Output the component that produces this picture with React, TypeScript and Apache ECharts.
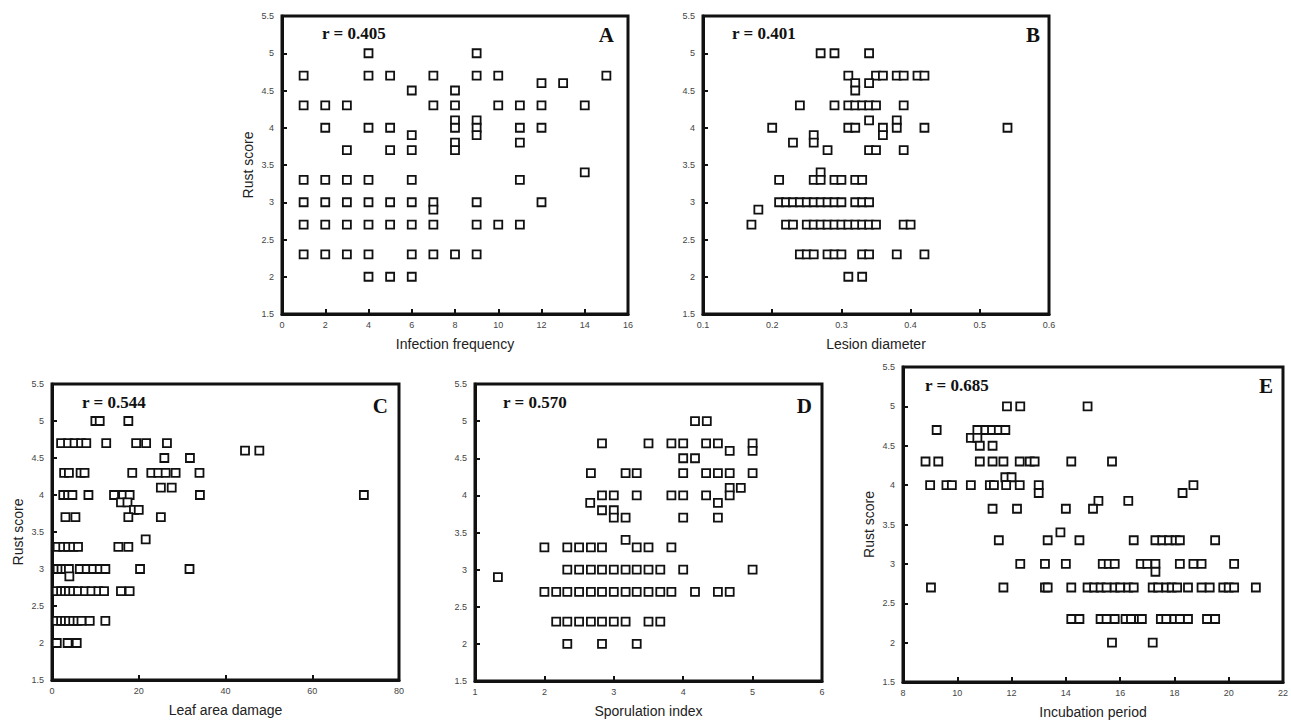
import React, { useEffect, useRef } from "react";
import * as echarts from "echarts";

// Panel A: Infection frequency vs Rust score
const infectionFrequency: [number, number][] = [
  [4, 5], [9, 5],
  [1, 4.7], [4, 4.7], [5, 4.7], [7, 4.7], [9, 4.7], [10, 4.7], [15, 4.7],
  [12, 4.6], [13, 4.6],
  [6, 4.5], [8, 4.5],
  [1, 4.3], [2, 4.3], [3, 4.3], [7, 4.3], [8, 4.3], [10, 4.3], [11, 4.3], [12, 4.3], [14, 4.3],
  [8, 4.1], [9, 4.1],
  [2, 4], [4, 4], [5, 4], [8, 4], [9, 4], [11, 4], [12, 4],
  [6, 3.9], [9, 3.9],
  [8, 3.8], [11, 3.8],
  [3, 3.7], [5, 3.7], [6, 3.7], [8, 3.7],
  [14, 3.4],
  [1, 3.3], [2, 3.3], [3, 3.3], [4, 3.3], [6, 3.3], [11, 3.3],
  [1, 3], [2, 3], [3, 3], [4, 3], [5, 3], [6, 3], [7, 3], [9, 3], [12, 3],
  [7, 2.9],
  [1, 2.7], [2, 2.7], [3, 2.7], [4, 2.7], [5, 2.7], [6, 2.7], [7, 2.7], [9, 2.7], [10, 2.7], [11, 2.7],
  [1, 2.3], [2, 2.3], [3, 2.3], [4, 2.3], [6, 2.3], [7, 2.3], [8, 2.3], [9, 2.3],
  [4, 2], [5, 2], [6, 2],
];

// Panel B: Lesion diameter vs Rust score
const lesionDiameter: [number, number][] = [
  [0.27, 5], [0.29, 5], [0.34, 5],
  [0.31, 4.7], [0.35, 4.7], [0.36, 4.7], [0.38, 4.7], [0.39, 4.7], [0.41, 4.7], [0.42, 4.7],
  [0.32, 4.6], [0.34, 4.6],
  [0.32, 4.5],
  [0.24, 4.3], [0.29, 4.3], [0.31, 4.3], [0.32, 4.3], [0.33, 4.3], [0.34, 4.3], [0.35, 4.3], [0.39, 4.3],
  [0.34, 4.1], [0.38, 4.1],
  [0.2, 4], [0.31, 4], [0.32, 4], [0.36, 4], [0.38, 4], [0.42, 4], [0.54, 4],
  [0.26, 3.9], [0.36, 3.9],
  [0.23, 3.8], [0.26, 3.8],
  [0.28, 3.7], [0.34, 3.7], [0.35, 3.7], [0.39, 3.7],
  [0.27, 3.4],
  [0.21, 3.3], [0.26, 3.3], [0.27, 3.3], [0.29, 3.3], [0.3, 3.3], [0.32, 3.3], [0.33, 3.3],
  [0.21, 3], [0.22, 3], [0.23, 3], [0.24, 3], [0.25, 3], [0.26, 3], [0.27, 3], [0.28, 3], [0.29, 3], [0.3, 3],
  [0.32, 3], [0.33, 3], [0.34, 3],
  [0.18, 2.9],
  [0.17, 2.7], [0.22, 2.7], [0.23, 2.7], [0.25, 2.7], [0.26, 2.7], [0.27, 2.7], [0.28, 2.7], [0.29, 2.7],
  [0.3, 2.7], [0.31, 2.7], [0.32, 2.7], [0.33, 2.7], [0.34, 2.7], [0.35, 2.7], [0.39, 2.7], [0.4, 2.7],
  [0.24, 2.3], [0.25, 2.3], [0.26, 2.3], [0.28, 2.3], [0.29, 2.3], [0.3, 2.3], [0.33, 2.3], [0.34, 2.3], [0.38, 2.3], [0.42, 2.3],
  [0.31, 2], [0.33, 2],
];

// Panel C: Leaf area damage vs Rust score
const leafAreaDamage: [number, number][] = [
  [10, 5], [11, 5], [17.6, 5],
  [2.1, 4.7], [3.7, 4.7], [5.2, 4.7], [6.7, 4.7], [7.9, 4.7], [12.5, 4.7], [19.4, 4.7], [21.7, 4.7], [26.5, 4.7],
  [44.5, 4.6], [47.8, 4.6],
  [25.9, 4.5], [31.8, 4.5],
  [2.8, 4.3], [3.9, 4.3], [6.6, 4.3], [7.5, 4.3], [18.5, 4.3], [22.9, 4.3], [24.5, 4.3], [26.2, 4.3], [28.5, 4.3], [34, 4.3],
  [25.1, 4.1], [27.6, 4.1],
  [2.6, 4], [3.7, 4], [4.7, 4], [8.4, 4], [14.3, 4], [16.4, 4], [17.9, 4], [34.1, 4], [71.9, 4],
  [15.9, 3.9], [17.4, 3.9],
  [18.9, 3.8], [20, 3.8],
  [3.1, 3.7], [5.4, 3.7], [17.6, 3.7], [25.1, 3.7],
  [21.6, 3.4],
  [1.3, 3.3], [2.6, 3.3], [3.7, 3.3], [4.9, 3.3], [6.0, 3.3], [15.3, 3.3], [17.6, 3.3],
  [1.3, 3], [2.2, 3], [3.1, 3], [3.9, 3], [6.4, 3], [8, 3], [9.5, 3], [11, 3], [12.3, 3], [20.3, 3], [31.7, 3],
  [4, 2.9],
  [1.1, 2.7], [2.1, 2.7], [3, 2.7], [3.9, 2.7], [4.9, 2.7], [6, 2.7], [7.6, 2.7], [9.1, 2.7], [10.7, 2.7], [12, 2.7], [15.9, 2.7], [17.9, 2.7],
  [1.1, 2.3], [2.1, 2.3], [3, 2.3], [3.9, 2.3], [4.9, 2.3], [5.9, 2.3], [6.8, 2.3], [8.7, 2.3], [12.3, 2.3],
  [1.1, 2], [3.6, 2], [5.7, 2],
];

// Panel D: Sporulation index vs Rust score
const sporulationIndex: [number, number][] = [
  [4.17, 5], [4.34, 5],
  [2.83, 4.7], [3.5, 4.7], [3.83, 4.7], [4, 4.7], [4.33, 4.7], [4.5, 4.7], [5, 4.7],
  [4.67, 4.6], [5, 4.6],
  [4, 4.5], [4.17, 4.5],
  [2.67, 4.3], [3.17, 4.3], [3.33, 4.3], [4, 4.3], [4.33, 4.3], [4.5, 4.3], [4.67, 4.3], [5, 4.3],
  [4.67, 4.1], [4.83, 4.1],
  [2.83, 4], [3, 4], [3.33, 4], [3.83, 4], [4, 4], [4.33, 4], [4.67, 4],
  [2.66, 3.9], [4.5, 3.9],
  [2.83, 3.8], [3, 3.8],
  [3, 3.7], [3.17, 3.7], [4, 3.7], [4.5, 3.7],
  [3.17, 3.4],
  [2, 3.3], [2.33, 3.3], [2.5, 3.3], [2.67, 3.3], [2.83, 3.3], [3.33, 3.3], [3.5, 3.3], [3.83, 3.3],
  [2.33, 3], [2.5, 3], [2.67, 3], [2.83, 3], [3, 3], [3.17, 3], [3.33, 3], [3.5, 3], [3.67, 3], [4, 3], [5, 3],
  [1.33, 2.9],
  [2, 2.7], [2.17, 2.7], [2.33, 2.7], [2.5, 2.7], [2.67, 2.7], [2.83, 2.7], [3, 2.7], [3.17, 2.7], [3.33, 2.7],
  [3.5, 2.7], [3.67, 2.7], [3.83, 2.7], [4.17, 2.7], [4.5, 2.7], [4.67, 2.7],
  [2.17, 2.3], [2.33, 2.3], [2.5, 2.3], [2.67, 2.3], [2.83, 2.3], [3, 2.3], [3.17, 2.3], [3.5, 2.3], [3.67, 2.3],
  [2.33, 2], [2.83, 2], [3.33, 2],
];

// Panel E: Incubation period vs Rust score
const incubationPeriod: [number, number][] = [
  [11.83, 5], [12.32, 5], [14.8, 5],
  [9.24, 4.7], [10.74, 4.7], [11.04, 4.7], [11.28, 4.7], [11.53, 4.7], [11.77, 4.7],
  [10.5, 4.6], [10.74, 4.6],
  [10.83, 4.5], [11.3, 4.5],
  [8.83, 4.3], [9.3, 4.3], [10.83, 4.3], [11.3, 4.3], [11.7, 4.3], [12.3, 4.3], [12.67, 4.3], [12.85, 4.3], [14.2, 4.3], [15.7, 4.3],
  [11.77, 4.1], [12, 4.1],
  [9, 4], [9.6, 4], [9.8, 4], [10.5, 4], [11.2, 4], [11.35, 4], [11.8, 4], [12.3, 4], [13, 4], [18.7, 4],
  [13, 3.9], [18.3, 3.9],
  [15.2, 3.8], [16.3, 3.8],
  [11.3, 3.7], [12.2, 3.7], [14, 3.7], [15, 3.7],
  [13.8, 3.4],
  [11.53, 3.3], [13.33, 3.3], [14.5, 3.3], [16.5, 3.3], [17.3, 3.3], [17.55, 3.3], [17.8, 3.3], [18.04, 3.3], [18.2, 3.3], [19.5, 3.3],
  [12.32, 3], [13.23, 3], [14, 3], [15.36, 3], [15.58, 3], [15.8, 3], [16.76, 3], [17, 3], [17.3, 3], [18.2, 3], [18.7, 3], [19, 3], [20.2, 3],
  [17.3, 2.9],
  [9.03, 2.7], [11.7, 2.7], [13.23, 2.7], [13.33, 2.7], [14.2, 2.7], [14.8, 2.7], [15.04, 2.7], [15.28, 2.7], [15.5, 2.7],
  [15.8, 2.7], [16, 2.7], [16.3, 2.7], [16.5, 2.7], [17.2, 2.7], [17.4, 2.7], [17.7, 2.7], [17.9, 2.7], [18.1, 2.7],
  [18.5, 2.7], [19, 2.7], [19.3, 2.7], [19.8, 2.7], [20, 2.7], [20.2, 2.7], [21, 2.7],
  [14.2, 2.3], [14.5, 2.3], [15.28, 2.3], [15.5, 2.3], [15.8, 2.3], [16.2, 2.3], [16.4, 2.3], [16.7, 2.3], [16.8, 2.3],
  [17.5, 2.3], [17.7, 2.3], [18, 2.3], [18.2, 2.3], [18.5, 2.3], [19.2, 2.3], [19.5, 2.3],
  [15.7, 2], [17.2, 2],
];

const xNames = ["Infection frequency", "Lesion diameter", "Leaf area damage", "Sporulation index", "Incubation period"];
const yNames = ["Rust score", "", "Rust score", "", "Rust score"];
const rLabels = ["r = 0.405", "r = 0.401", "r = 0.544", "r = 0.570", "r = 0.685"];
const panelLetters = ["A", "B", "C", "D", "E"];
const xMins = [0, 0.1, 0, 1, 8];
const xMaxs = [16, 0.6, 80, 6, 22];
const xSteps = [2, 0.1, 20, 1, 2];
const yMin = 1.5;
const yMax = 5.5;
const yStep = 0.5;

const grids = [
  { left: 282, top: 16, width: 346, height: 298 },
  { left: 703, top: 16, width: 346, height: 298 },
  { left: 52, top: 384, width: 347, height: 296 },
  { left: 475, top: 384, width: 347, height: 297 },
  { left: 903, top: 367, width: 384, height: 316 },
];
const rPos = [[322, 33], [732, 33], [82, 402], [503, 402], [925, 385]];
const letterPos = [[614, 35], [1040, 35], [388, 406], [812, 406], [1273, 386]];

const fmt = (v: number) => String(parseFloat(v.toFixed(2)));

export default function App() {
  const ref = useRef<HTMLDivElement>(null);
  useEffect(() => {
    if (!ref.current) return;
    const chart = echarts.init(ref.current, undefined, { renderer: "svg" });
    const datasets = [infectionFrequency, lesionDiameter, leafAreaDamage, sporulationIndex, incubationPeriod];
    const axisLine = { show: true, lineStyle: { color: "#111", width: 3 } };
    const axisTick = { show: true, inside: true, length: 5, lineStyle: { color: "#111", width: 2 } };
    const axisLabelBase = { color: "#444", fontSize: 9, fontFamily: "Liberation Sans, Arial, sans-serif", formatter: fmt };
    const nameTextStyle = { color: "#222", fontSize: 14, fontFamily: "Liberation Sans, Arial, sans-serif" };
    const graphics: any[] = [];
    rLabels.forEach((t, i) => {
      graphics.push({
        type: "text",
        x: rPos[i][0],
        y: rPos[i][1],
        style: { text: t, font: 'bold 17px "Liberation Serif", "Times New Roman", serif', fill: "#111", align: "left", verticalAlign: "middle" },
      });
      graphics.push({
        type: "text",
        x: letterPos[i][0],
        y: letterPos[i][1],
        style: { text: panelLetters[i], font: 'bold 21px "Liberation Serif", "Times New Roman", serif', fill: "#111", align: "right", verticalAlign: "middle" },
      });
    });
    chart.setOption({
      animation: false,
      backgroundColor: "#fff",
      grid: grids.map((g) => ({ ...g, show: true, borderColor: "#111", borderWidth: 3, backgroundColor: "transparent" })),
      xAxis: grids.map((_, i) => ({
        type: "value",
        gridIndex: i,
        min: xMins[i],
        max: xMaxs[i],
        interval: xSteps[i],
        name: xNames[i],
        nameLocation: "middle",
        nameGap: 23,
        nameTextStyle,
        axisLine,
        axisTick,
        axisLabel: { ...axisLabelBase, margin: 6, showMaxLabel: true, showMinLabel: true },
        splitLine: { show: false },
      })),
      yAxis: grids.map((_, i) => ({
        type: "value",
        gridIndex: i,
        min: yMin,
        max: yMax,
        interval: yStep,
        name: yNames[i],
        nameLocation: "middle",
        nameGap: 27,
        nameRotate: 90,
        nameTextStyle,
        axisLine,
        axisTick,
        axisLabel: { ...axisLabelBase, margin: 8 },
        splitLine: { show: false },
      })),
      series: datasets.map((d, i) => ({
        type: "scatter",
        xAxisIndex: i,
        yAxisIndex: i,
        data: d,
        symbol: "rect",
        symbolSize: 8,
        itemStyle: { color: "#fff", borderColor: "#111", borderWidth: 1.8, opacity: 1 },
        emphasis: { disabled: true },
      })),
      graphic: graphics,
    });
    return () => chart.dispose();
  }, []);
  return <div ref={ref} style={{ position: "fixed", left: 0, top: 0, width: 1291, height: 720, background: "#fff" }} />;
}
